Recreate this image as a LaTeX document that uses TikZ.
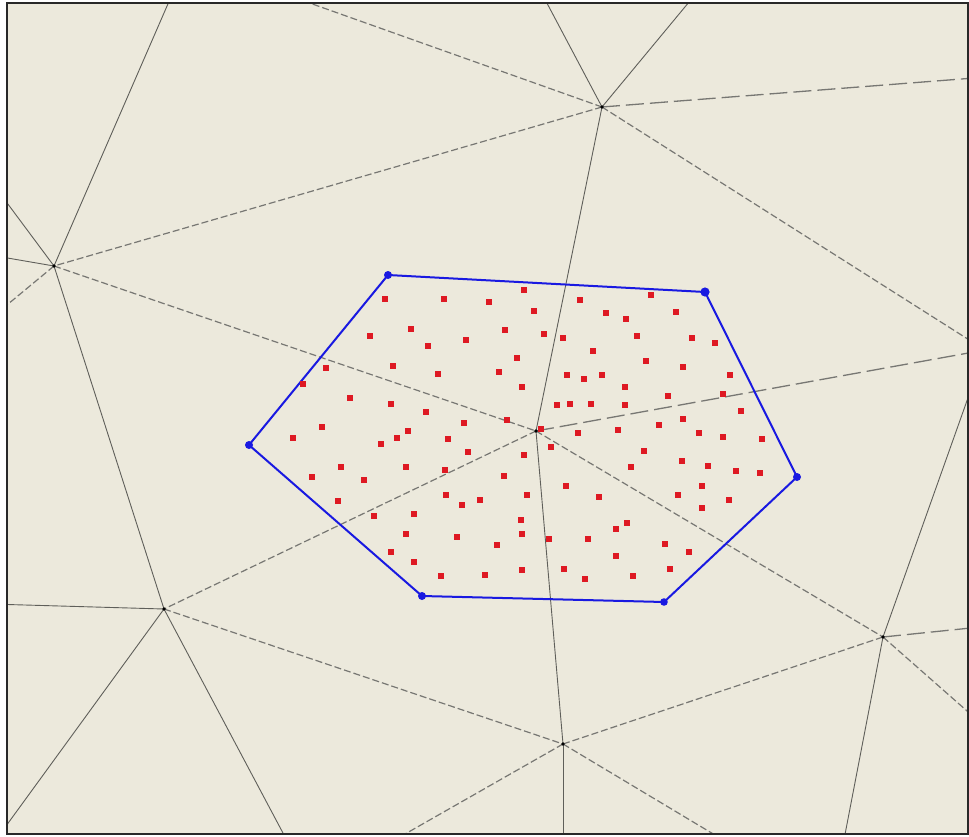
\documentclass[tikz,border=0pt]{standalone}
\definecolor{bg}{RGB}{236,233,220}
\definecolor{edgecol}{RGB}{95,95,90}
\definecolor{hexblue}{RGB}{25,25,225}
\definecolor{dotred}{RGB}{222,25,35}
\definecolor{framecol}{RGB}{40,40,40}
\begin{document}
\begin{tikzpicture}[x=1pt,y=-1pt,
  solidedge/.style={draw=edgecol,line width=0.9pt},
  dashedge/.style={draw=edgecol!85,line width=1.2pt,dash pattern=on 7pt off 3pt},
  longdash/.style={draw=edgecol!85,line width=1.3pt,dash pattern=on 18pt off 6pt},
  hexedge/.style={draw=hexblue,line width=2pt,line join=round},
  meshvert/.style={fill=black},
  hexvert/.style={fill=hexblue},
  reddot/.style={fill=dotred}]
\useasboundingbox (0,0) rectangle (969,837);
\fill[white] (0,0) rectangle (969,837);
\fill[bg] (7,3) rectangle (968,834);
% mesh vertices
\coordinate (A) at (602,107);
\coordinate (B) at (54,266);
\coordinate (C) at (536,431);
\coordinate (D) at (164,609);
\coordinate (E) at (563,744);
\coordinate (F) at (883,637);
\coordinate (G) at (985,350);
% free ends outside the frame
\coordinate (a1) at (540,-10);
\coordinate (a2) at (699,-10);
\coordinate (a3) at (273,-10);
\coordinate (a4) at (1000,76);
\coordinate (b1) at (174,-10);
\coordinate (b2) at (-10,180);
\coordinate (b3) at (-10,255);
\coordinate (b4) at (-10,319);
\coordinate (d1) at (-10,604);
\coordinate (d2) at (-10,848);
\coordinate (d3) at (292,850);
\coordinate (e1) at (563,850);
\coordinate (e2) at (377,850);
\coordinate (e3) at (740,850);
\coordinate (f1) at (842,850);
\coordinate (f2) at (1000,625);
\coordinate (f3) at (1000,740);
\begin{scope}
\clip (7,3) rectangle (968,834);
% solid edges
\draw[solidedge] (A) -- (a1);
\draw[solidedge] (A) -- (a2);
\draw[solidedge] (A) -- (C);
\draw[solidedge] (B) -- (b1);
\draw[solidedge] (B) -- (b2);
\draw[solidedge] (B) -- (b3);
\draw[solidedge] (B) -- (D);
\draw[solidedge] (D) -- (d1);
\draw[solidedge] (D) -- (d2);
\draw[solidedge] (D) -- (d3);
\draw[solidedge] (C) -- (E);
\draw[solidedge] (E) -- (e1);
\draw[solidedge] (F) -- (G);
\draw[solidedge] (F) -- (f1);
% dashed edges
\draw[dashedge] (A) -- (B);
\draw[dashedge] (A) -- (a3);
\draw[longdash] (A) -- (a4);
\draw[dashedge] (A) -- (G);
\draw[dashedge] (B) -- (C);
\draw[dashedge] (B) -- (b4);
\draw[dashedge] (C) -- (D);
\draw[dashedge] (C) -- (F);
\draw[longdash] (C) -- (G);
\draw[dashedge] (D) -- (E);
\draw[dashedge] (E) -- (F);
\draw[dashedge] (E) -- (e2);
\draw[dashedge] (E) -- (e3);
\draw[longdash] (F) -- (f2);
\draw[dashedge] (F) -- (f3);
\foreach \v in {A,B,C,D,E,F} \fill[meshvert] (\v) circle (1.8);
\end{scope}
% hexagon
\coordinate (H1) at (388,275);
\coordinate (H2) at (705,292);
\coordinate (H3) at (797,477);
\coordinate (H4) at (664,602);
\coordinate (H5) at (422,596);
\coordinate (H6) at (249,445);
\draw[hexedge] (H1) -- (H2) -- (H3) -- (H4) -- (H5) -- (H6) -- cycle;
\foreach \v/\r in {H1/4,H2/4.6,H3/4,H4/3.8,H5/4,H6/4} \fill[hexvert] (\v) circle (\r);
% red sample points
\foreach \x/\y in {385/299,411/329,370/336,428/346,393/366,326/368,303/384,350/398,391/404,426/412,
 322/427,408/431,293/438,397/438,524/290,444/299,489/302,580/300,534/311,606/313,
 505/330,544/334,563/338,466/340,593/351,517/358,438/374,499/372,567/375,584/379,
 602/375,522/387,557/405,570/404,591/404,507/420,464/423,541/429,578/433,448/439,
 618/430,651/295,676/312,626/319,637/336,692/338,715/343,646/361,683/367,730/375,
 625/387,668/396,723/394,625/405,741/411,683/419,659/425,699/433,723/437,762/439,
 381/444,341/467,406/467,312/477,364/480,338/501,374/516,414/514,406/534,391/552,
 414/562,468/452,524/455,551/447,445/470,504/476,566/486,446/495,527/495,480/500,
 462/505,599/497,521/520,522/534,457/537,549/539,588/539,616/529,497/545,616/556,
 441/576,485/575,522/570,564/569,585/579,644/451,631/467,682/461,708/466,736/471,
 760/473,702/486,678/495,729/500,702/508,627/523,665/544,689/552,670/569,633/576}
 \fill[reddot] (\x-2.6,\y-2.6) rectangle (\x+2.6,\y+2.6);
% frame
\draw[framecol,line width=1.5pt] (7,3) rectangle (968,834);
\end{tikzpicture}
\end{document}
